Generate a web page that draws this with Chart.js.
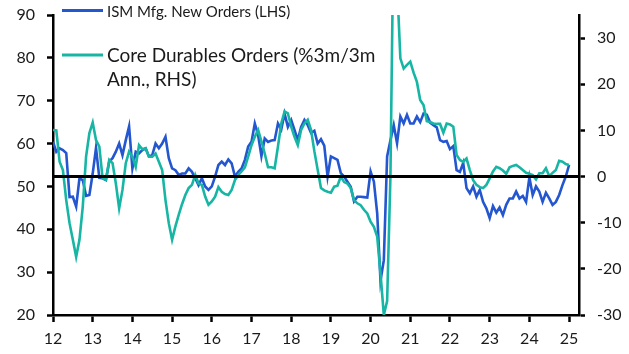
<!DOCTYPE html>
<html>
<head>
<meta charset="utf-8">
<script src="https://cdn.jsdelivr.net/npm/chart.js@4.4.1/dist/chart.umd.min.js"></script>
<style>
  html, body { margin: 0; padding: 0; background: #fff; }
  #wrap { width: 629px; height: 354px; }
</style>
</head>
<body>
<div id="wrap"><canvas id="chart" width="629" height="354"></canvas></div>
<script>
// monthly, Jan 2012 .. Jan 2025
const startYear = 12;
const yearTicks = [12, 13, 14, 15, 16, 17, 18, 19, 20, 21, 22, 23, 24, 25];

const ismNewOrders = [
  60.4, 58.1, 58.9, 58.5, 57.8, 47.5, 47.6, 45.3, 51.9, 51.5, 47.8, 48.0,
  53.0, 59.0, 52.0, 51.9, 51.5, 55.8, 56.6, 58.1, 60.0, 57.3, 60.8, 64.0,
  54.2, 58.1, 57.7, 58.5, 58.9, 57.0, 57.3, 60.0, 58.9, 60.0, 61.6, 56.6,
  54.2, 53.8, 52.7, 53.0, 53.0, 54.2, 53.4, 51.9, 50.3, 51.9, 50.0, 49.2,
  50.0, 52.3, 55.0, 55.8, 55.0, 56.3, 55.4, 52.3, 53.4, 54.2, 56.2, 59.3,
  60.4, 64.7, 62.0, 57.1, 61.2, 60.4, 60.7, 60.8, 64.7, 63.3, 67.0, 63.9,
  65.5, 63.2, 60.8, 63.9, 65.5, 64.3, 62.5, 63.0, 60.0, 61.0, 59.5, 52.3,
  57.0, 56.6, 56.2, 53.1, 52.3, 51.1, 49.9, 46.5, 47.6, 47.6, 47.5, 47.4,
  53.5, 51.1, 43.7, 28.0, 32.8, 57.0, 60.8, 64.3, 60.1, 66.3, 64.7, 66.7,
  64.7, 64.7, 66.3, 65.0, 67.0, 66.7, 64.9, 64.3, 63.8, 60.8, 60.4, 60.6,
  58.7, 59.4, 53.8, 53.4, 55.5, 49.6, 48.4, 50.0, 47.6, 49.2, 46.4, 44.9,
  42.6, 45.4, 43.9, 45.1, 43.3, 45.7, 47.2, 47.2, 48.8, 47.2, 47.8, 46.4,
  52.1, 48.0, 50.0, 48.8, 46.4, 48.5, 47.2, 45.7, 46.4, 48.0, 50.3, 52.3,
  55.0
];

const coreDurables = [
  10.1, 10.0, 3.2, 1.4, -5.1, -10.1, -13.7, -17.4, -13.7, -6.5, 4.3, 9.4,
  11.7, 7.9, 6.5, -0.4, -0.7, 3.6, 2.9, -1.5, -6.9, -2.9, 2.9, 5.4,
  4.3, 2.1, 6.8, 5.9, 6.1, 4.3, 4.3, 5.0, 3.2, 1.4, -5.1, -10.1,
  -13.7, -10.8, -8.3, -6.0, -4.0, -2.5, -1.8, 0.35, -1.5, -1.8, -4.35, -6.1,
  -5.4, -4.35, -2.3, -3.3, -3.8, -4.0, -2.9, -0.75, 0.35, 1.1, 2.0, 4.3,
  6.8, 8.6, 10.1, 7.6, 5.0, 2.0, 2.0, 1.8, 6.5, 11.5, 14.1, 13.7,
  10.8, 8.6, 6.8, 10.1, 11.5, 12.3, 10.1, 5.5, 1.5, -2.5, -3.0, -3.3,
  -3.5, -2.2, -2.0, 0.0, -1.2, -1.5, -2.5, -5.1, -5.8, -6.2, -7.2, -8.0,
  -9.8, -10.9, -13.0, -21.0, -30.0, -27.0, 0.0, 58.0, 42.0, 25.6, 23.4, 24.2,
  24.9, 22.5, 20.5, 16.6, 15.5, 12.0, 11.8, 11.5, 11.4, 11.4, 9.5, 11.5,
  11.3, 10.8, 4.7, 3.6, 3.2, 3.9, 1.4, -0.8, -1.8, -2.3, -2.5, -1.8,
  -0.4, 1.1, 2.1, 1.8, 1.3, 0.6, 2.0, 2.3, 2.5, 2.0, 1.4, 0.8,
  0.6, 0.3, -0.6, 0.7, 0.7, 1.8, 0.1, 0.8, 1.4, 3.4, 3.2, 2.7,
  2.5
];

const seriesNames = ["ISM Mfg. New Orders (LHS)", ["Core Durables Orders (%3m/3m", "Ann., RHS)"]];
const blue = "#2356CF";
const teal = "#17B5A4";
const font = "Lato";

const toPoints = arr => arr.map((v, i) => ({ x: startYear + i / 12, y: v }));

// zero line of the right axis, drawn over the lines
const zeroLine = {
  id: "zeroLine",
  afterDatasetsDraw(chart) {
    const { ctx, chartArea, scales } = chart;
    const y = scales.y2.getPixelForValue(0);
    ctx.save();
    ctx.strokeStyle = "#000";
    ctx.lineWidth = 3;
    ctx.beginPath();
    ctx.moveTo(chartArea.left, y);
    ctx.lineTo(chartArea.right, y);
    ctx.stroke();
    ctx.restore();
  }
};

const legendBox = {
  id: "legendBox",
  afterDraw(chart) {
    const ctx = chart.ctx;
    ctx.save();
    ctx.fillStyle = "#1a1a1a";
    ctx.textBaseline = "alphabetic";
    ctx.lineWidth = 3;
    ctx.strokeStyle = blue;
    ctx.beginPath(); ctx.moveTo(62, 10.5); ctx.lineTo(103, 10.5); ctx.stroke();
    ctx.font = "15px " + font;
    ctx.fillText(seriesNames[0], 107, 16.5);
    ctx.strokeStyle = teal;
    ctx.beginPath(); ctx.moveTo(62, 55); ctx.lineTo(103, 55); ctx.stroke();
    ctx.font = "19px " + font;
    ctx.fillText(seriesNames[1][0], 107, 62);
    ctx.fillText(seriesNames[1][1], 107, 86);
    ctx.restore();
  }
};

const axisStyle = {
  border: { display: true, color: "#000", width: 2.5 },
  grid: { drawOnChartArea: false, drawTicks: true, tickLength: 6, tickColor: "#000", tickWidth: 2.5 },
};

const fitY = s => { s.width = s.id === "y" ? 53 : 50; s.paddingTop = 0; s.paddingBottom = 0; };

new Chart(document.getElementById("chart"), {
  type: "line",
  data: {
    datasets: [
      { label: "ISM", data: toPoints(ismNewOrders), yAxisID: "y", borderColor: blue, borderWidth: 2.6, pointRadius: 0, tension: 0, order: 1, clip: 0 },
      { label: "Core", data: toPoints(coreDurables), yAxisID: "y2", borderColor: teal, borderWidth: 2.6, pointRadius: 0, tension: 0, order: 0, clip: 0 }
    ]
  },
  options: {
    responsive: false,
    animation: false,
    devicePixelRatio: 1,
    layout: { padding: { top: 15, left: 0, right: 0, bottom: 0 } },
    plugins: { legend: { display: false }, tooltip: { enabled: false } },
    scales: {
      x: {
        type: "linear",
        min: 12,
        max: 25.25,
        ...axisStyle,
        grid: { ...axisStyle.grid, tickLength: 7 },
        afterBuildTicks: s => { s.ticks = yearTicks.map(v => ({ value: v })); },
        afterFit: s => { s.height = 39; },
        ticks: { padding: 7, color: "#1a1a1a", font: { family: font, size: 16 }, maxRotation: 0, autoSkip: false, callback: v => String(v) }
      },
      y: {
        position: "left",
        min: 20,
        max: 90,
        ...axisStyle,
        afterFit: fitY,
        ticks: { stepSize: 10, padding: 12, color: "#1a1a1a", font: { family: font, size: 16 } }
      },
      y2: {
        position: "right",
        min: -30,
        max: 35,
        ...axisStyle,
        afterBuildTicks: s => { s.ticks = s.ticks.filter(t => t.value <= 30); },
        afterFit: fitY,
        ticks: { stepSize: 10, padding: 12, color: "#1a1a1a", font: { family: font, size: 16 } }
      }
    }
  },
  plugins: [zeroLine, legendBox]
});
</script>
</body>
</html>
